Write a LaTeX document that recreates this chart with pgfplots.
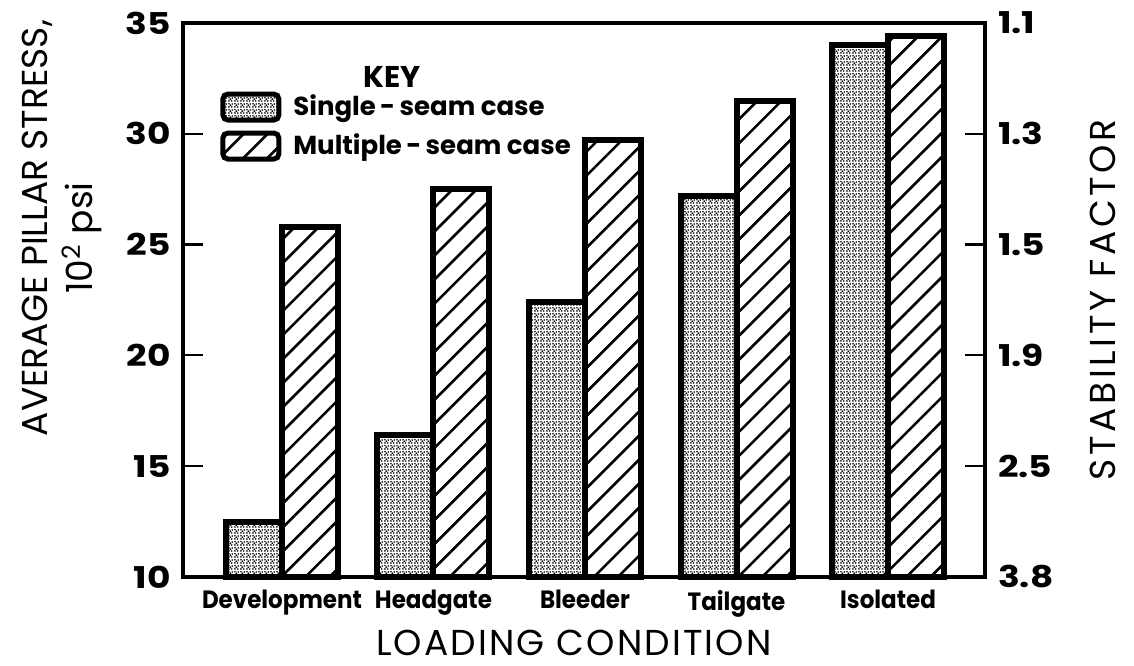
\documentclass[border=0pt]{standalone}
\usepackage{fontspec}
\setmainfont{Poppins}
\newfontfamily\tickfont[FakeStretch=1.2]{Poppins}
\newfontfamily\xtfont[FakeStretch=0.92]{Poppins}
\usepackage{pgfplots}
\pgfplotsset{compat=1.18}
\usetikzlibrary{patterns.meta}

\tikzdeclarepattern{
  name=stipple,
  type=uncolored,
  bottom left={(0pt,0pt)},
  top right={(3pt,3pt)},
  tile size={(3pt,3pt)},
  code={
    \fill (0.55pt,0.6pt) circle (0.55pt);
    \fill (2.2pt,0.55pt) circle (0.5pt);
    \fill (1.35pt,1.6pt) circle (0.58pt);
    \fill (2.45pt,2.3pt) circle (0.52pt);
    \fill (0.6pt,2.45pt) circle (0.5pt);
  }
}

\pgfplotsset{
  keyimg/.style={legend image code/.code={%
    \draw[##1, line width=2.5pt, rounded corners=2.5pt] (0pt,-6.5pt) rectangle (28pt,6.5pt);}},
}

\begin{document}
\begin{tikzpicture}
\begin{axis}[
  scale only axis, width=401pt, height=277pt,
  xmin=-0.653, xmax=4.64, ymin=10, ymax=35,
  ybar=0pt, bar width=28pt,
  axis line style={line width=1.6pt},
  tick align=inside,
  major tick length=10pt,
  every tick/.style={line width=1.1pt, black},
  ytick={10,15,20,25,30,35}, yticklabels={10,15,20,25,30,35},
  ytick pos=left,
  xtick={0,1,2,3,4}, xticklabels={Development,Headgate,Bleeder,Tailgate,Isolated},
  x tick style={draw=none},
  yticklabel style={font=\tickfont\bfseries\fontsize{15}{17}\selectfont, xshift=-2.5pt},
  xticklabel style={font=\xtfont\bfseries\fontsize{12.5}{15}\selectfont, yshift=-3pt},
  clip=false,
  legend cell align=left,
  legend style={at={(axis description cs:0.0461,0.877)}, anchor=north west,
    draw=none, fill=none, inner sep=0pt, column sep=5pt, row sep=4pt,
    font=\bfseries\fontsize{13}{16}\selectfont,
    nodes={inner sep=1pt}},
]
\addplot[draw=black, line width=3pt, pattern=stipple, keyimg]
  coordinates {(0,12.5) (1,16.4) (2,22.4) (3,27.2) (4,34.0)};
\addlegendentry{Single{\,}-{\,}seam case}
\addplot[draw=black, line width=3pt, pattern={Lines[angle=45,distance=8.5pt,line width=1.3pt]}, keyimg]
  coordinates {(0,25.8) (1,27.5) (2,29.7) (3,31.5) (4,34.4)};
\addlegendentry{Multiple{\,}-{\,}seam case}

\node[rotate=90, font=\fontsize{18}{20}\selectfont] at (axis description cs:-0.182,0.630) {AVERAGE PILLAR STRESS,};
\node[rotate=90, font=\fontsize{18}{20}\selectfont] at (axis description cs:-0.126,0.612) {10\textsuperscript{2} psi};
\node[rotate=90, font=\fontsize{18}{20}\selectfont\addfontfeatures{LetterSpace=10}] at (axis description cs:1.147,0.5) {STABILITY FACTOR};
\node[font=\fontsize{18}{20}\selectfont\addfontfeatures{LetterSpace=6}] at (axis description cs:0.4875,-0.119) {LOADING CONDITION};
\node[font=\bfseries\fontsize{15}{17}\selectfont] at (axis description cs:0.2606,0.9025) {KEY};
\coordinate (BL) at (axis description cs:-0.22818,-0.16065);
\coordinate (TR) at (axis description cs:1.18579,1.04152);
\end{axis}
\begin{axis}[
  scale only axis, width=401pt, height=277pt,
  xmin=-0.653, xmax=4.64, ymin=10, ymax=35,
  axis x line=none, axis y line*=right,
  y axis line style={line width=1.6pt, -},
  tick align=inside,
  major tick length=10pt,
  every tick/.style={line width=1.1pt, black},
  ytick={10,15,20,25,30,35}, yticklabels={3.8,2.5,1.9,1.5,1.3,1.1},
  yticklabel style={font=\tickfont\bfseries\fontsize{15}{17}\selectfont, xshift=3pt},
]
\addplot[draw=none] coordinates {(0,10)};
\end{axis}
\pgfresetboundingbox
\useasboundingbox (BL) rectangle (TR);
\end{tikzpicture}
\end{document}
